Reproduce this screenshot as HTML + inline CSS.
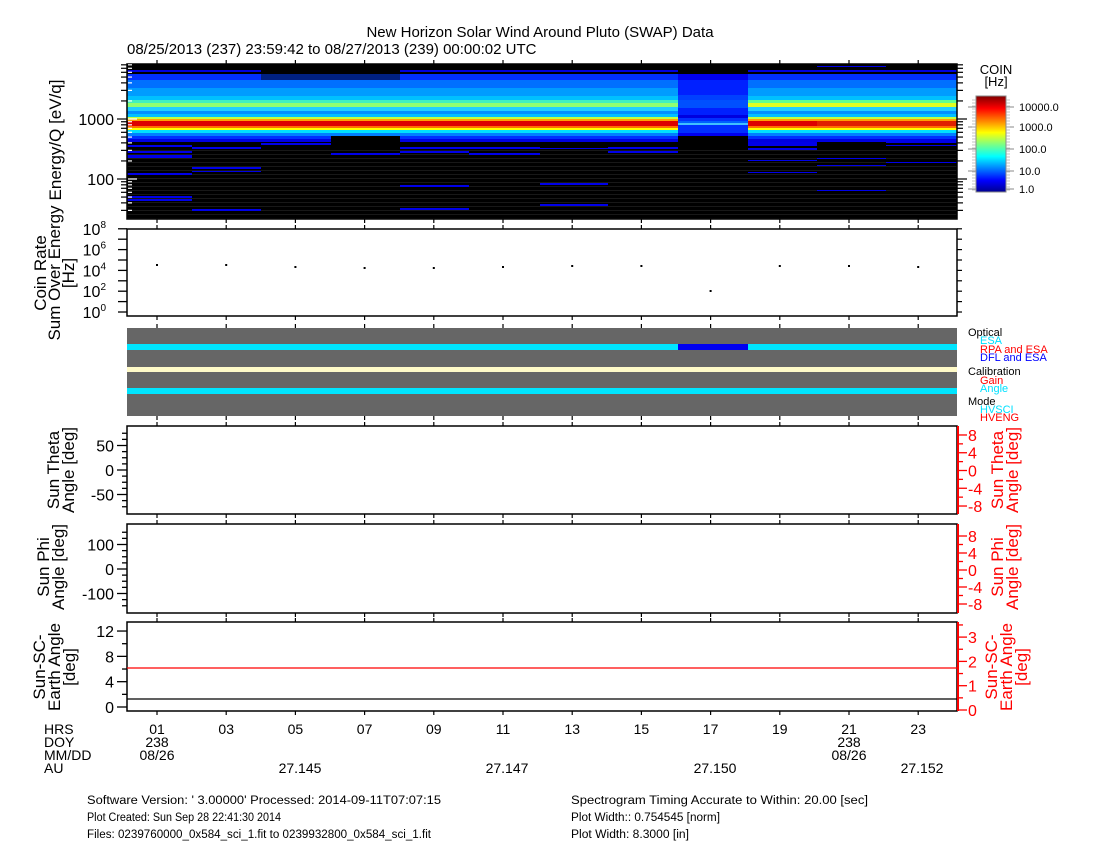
<!DOCTYPE html>
<html><head><meta charset="utf-8"><style>
html,body{margin:0;padding:0;background:#fff;}
svg{display:block;font-family:"Liberation Sans",Arial,sans-serif;}
</style></head><body>
<svg id="s" width="1100" height="850" xmlns="http://www.w3.org/2000/svg">
<defs>
<linearGradient id="jet" x1="0" y1="1" x2="0" y2="0">
<stop offset="0" stop-color="#00008f"/>
<stop offset="0.12" stop-color="#0000ff"/>
<stop offset="0.37" stop-color="#00ffff"/>
<stop offset="0.5" stop-color="#80ff80"/>
<stop offset="0.62" stop-color="#ffff00"/>
<stop offset="0.87" stop-color="#ff0000"/>
<stop offset="1" stop-color="#800000"/>
</linearGradient>
</defs>
<rect width="1100" height="850" fill="#fff"/>
<text x="540" y="37" font-size="15" text-anchor="middle">New Horizon Solar Wind Around Pluto (SWAP) Data</text>
<text x="127" y="54" font-size="15">08/25/2013 (237) 23:59:42 to 08/27/2013 (239) 00:00:02 UTC</text>
<g id="spec"></g>
<g id="rest"></g>
</svg>
<script>
const NS="http://www.w3.org/2000/svg";
const spec=document.getElementById('spec'), rest=document.getElementById('rest');
function el(p,tag,a,txt){const e=document.createElementNS(NS,tag);for(const k in a)e.setAttribute(k,a[k]);if(txt!==undefined)e.textContent=txt;p.appendChild(e);return e;}
const L=127,R=957;
el(spec,'rect',{x:L,y:64,width:R-L,height:155,fill:'#000'});
for(let y=150;y<219;y+=4) el(spec,'rect',{x:L,y:y,width:R-L,height:1,fill:'#181818'});
const bounds=[127,192,261,331,400,469,540,608,678,748,817,886,957];
const base=[[70,72,'#0000e0'],[74,80,'#0030ff'],[80,88,'#0070ff'],[88,96,'#009cff'],[96,100,'#00c0ff'],[100,103,'#40f0c0'],[103,107,'#90ff70'],[107,111,'#20d0ff'],[111,114,'#0090ff'],[114,117,'#00c0ff'],[117,119,'#c0ff40'],[119,121,'#ffa000'],[121,126,'#dd0000'],[126,128,'#ff7000'],[128,130,'#ffff00'],[130,133,'#00e0ff'],[133,136,'#0080ff'],[136,139,'#0030ff'],[139,142,'#0000e0']];
const extras=[[[145,147],[151,153],[155,158],[173,175],[196,198],[199,201]],[[147,149],[167,169],[171,172],[209,211]],[[143,145]],[[153,155]],[[147,149],[151,153],[185,187],[208,210]],[[147,149],[153,155]],[[148,149],[183,185],[204,206]],[[147,149],[151,153]],[],[[142,146],[148,150],[160,161],[172,173]],[[141,142],[158,159],[165,166],[190,191],[66,67],[70,71]],[[140,143],[145,146],[162,163]]];
for(let c=0;c<12;c++){
  const x=bounds[c],w=bounds[c+1]-x;
  let prof=base.map(b=>b.slice());
  if(c==2||c==3){prof=prof.filter(b=>b[0]>=74);prof[0][2]='#002080';}
  if(c==3){prof=prof.filter(b=>b[0]<136);}
  if(c==8){prof=[[74,80,'#0000ee'],[80,95,'#0020ff'],[95,100,'#0040ff'],[100,108,'#0050ff'],[108,115,'#0020ff'],[115,118,'#0000e0'],[118,121,'#0030ff'],[121,123,'#0060ff'],[123,125,'#40c0ff'],[125,133,'#0030ff'],[133,136,'#0000f0']];}
  if(c>=9){prof.forEach(b=>{if(b[0]==103)b[2]='#e0ff20';if(b[0]==100)b[2]='#60ff90';});}
  if(c==11||c==10){prof.forEach(b=>{if(b[0]==121)b[2]='#e02000';});}
  for(const b of prof) el(spec,'rect',{x:x,y:b[0],width:w,height:b[1]-b[0],fill:b[2]});
  for(const e of extras[c]) el(spec,'rect',{x:x,y:e[0],width:w,height:e[1]-e[0],fill:'#0000e8'});
}
el(spec,'rect',{x:L,y:64,width:R-L,height:155,fill:'none',stroke:'#000','stroke-width':1.5});
function ly(v){return 119-60*Math.log10(v/1000);}
for(let d=10;d<=10000;d*=10)for(let k=1;k<10;k++){const v=d*k,y=ly(v);if(y<64||y>219)continue;const maj=k==1;
 el(spec,'line',{x1:L-(maj?10:6),x2:L,y1:y,y2:y,stroke:'#000','stroke-width':1.2});
 el(spec,'line',{x1:R,x2:R+(maj?10:6),y1:y,y2:y,stroke:'#000','stroke-width':1.2});
 el(spec,'line',{x1:L+1,x2:L+(maj?10:5),y1:y,y2:y,stroke:'#fff','stroke-width':1.2});}
el(spec,'text',{x:114,y:125,'font-size':16,'text-anchor':'end'},'1000');
el(spec,'text',{x:114,y:185,'font-size':16,'text-anchor':'end'},'100');
el(spec,'rect',{x:976,y:96,width:30,height:96,fill:'url(#jet)',stroke:'#888','stroke-width':1});
el(spec,'text',{x:996,y:74,'font-size':13,'text-anchor':'middle'},'COIN');
el(spec,'text',{x:996,y:86,'font-size':13,'text-anchor':'middle'},'[Hz]');
[[107,'10000.0'],[127,'1000.0'],[149,'100.0'],[171,'10.0'],[189,'1.0']].forEach(t=>{el(spec,'text',{x:1019,y:t[0]+4,'font-size':11},t[1]);el(spec,'line',{x1:1006,x2:1014,y1:t[0],y2:t[0],stroke:'#888'});el(spec,'line',{x1:968,x2:976,y1:t[0],y2:t[0],stroke:'#888'});});
for(let y=100;y<192;y+=3){el(spec,'line',{x1:1006,x2:1010,y1:y,y2:y,stroke:'#aaa','stroke-width':0.7});el(spec,'line',{x1:972,x2:976,y1:y,y2:y,stroke:'#aaa','stroke-width':0.7});}
function hx(h){return 157+34.6*(h-1);}
const panels=[[64,219],[229,316],[328,416],[426,514],[524,613],[622,711]];
panels.forEach(p=>{for(let h=1;h<=23;h+=2){const x=hx(h);el(rest,'line',{x1:x,x2:x,y1:p[0]-4,y2:p[0],stroke:'#000','stroke-width':1.2});el(rest,'line',{x1:x,x2:x,y1:p[1],y2:p[1]+4,stroke:'#000','stroke-width':1.2});}});
el(rest,'rect',{x:L,y:229,width:R-L,height:87,fill:'none',stroke:'#000','stroke-width':1.5});
for(let e=0;e<=8;e++){const y=312-10.4*e;el(rest,'line',{x1:L-9,x2:L,y1:y,y2:y,stroke:'#000','stroke-width':1.3});el(rest,'line',{x1:R,x2:R+5,y1:y,y2:y,stroke:'#000','stroke-width':1.2});
 if(e%2==0){const t=el(rest,'text',{x:106,y:y+6,'font-size':16,'text-anchor':'end'},'10');el(t,'tspan',{dy:-7,'font-size':10},String(e));}}
const dy=[265,265,267,268,268,267,266,266,291,266,266,267];
dy.forEach((y,i)=>el(rest,'rect',{x:hx(1+2*i)-1,y:y-1,width:2,height:2,fill:'#000'}));
function vt(x,y,s,txt,fill){el(rest,'text',{x:0,y:0,'font-size':s,'text-anchor':'middle',fill:fill||'#000',transform:`translate(${x},${y}) rotate(-90)`},txt);}
vt(61,140,17,'Energy/Q [eV/q]');
vt(46,273,17,'Coin Rate');vt(60,273,17,'Sum Over Energy');vt(74,273,17,'[Hz]');
el(rest,'rect',{x:L,y:328,width:R-L,height:88,fill:'#666'});
el(rest,'rect',{x:L,y:344,width:R-L,height:6,fill:'#00e5ff'});
el(rest,'rect',{x:678,y:344,width:70,height:6,fill:'#0000f0'});
el(rest,'rect',{x:L,y:367,width:R-L,height:5,fill:'#fffac8'});
el(rest,'rect',{x:L,y:388,width:R-L,height:6,fill:'#00e5ff'});
[[968,332,'Optical','#000'],[980,340,'ESA','#00e0ff'],[980,349,'RPA and ESA','#ff0000'],[980,357,'DFL and ESA','#0000ff'],[968,371,'Calibration','#000'],[980,380,'Gain','#ff0000'],[980,388,'Angle','#00e0ff'],[968,401,'Mode','#000'],[980,409,'HVSCI','#00e0ff'],[980,417,'HVENG','#ff0000']].forEach(t=>el(rest,'text',{x:t[0],y:t[1]+4,'font-size':11,fill:t[3]},t[2]));
function panel(top,bot,lt,rt){el(rest,'rect',{x:L,y:top,width:R-L,height:bot-top,fill:'none',stroke:'#000','stroke-width':1.5});
 lt.forEach(t=>{el(rest,'line',{x1:L-(t[1]?10:5),x2:L,y1:t[0],y2:t[0],stroke:'#000','stroke-width':1.3});if(t[1])el(rest,'text',{x:114,y:t[0]+6,'font-size':16,'text-anchor':'end'},t[1]);});
 rt.forEach(t=>{el(rest,'line',{x1:R,x2:R+(t[1]?10:6),y1:t[0],y2:t[0],stroke:'#f00','stroke-width':1.3});if(t[1])el(rest,'text',{x:968,y:t[0]+6,'font-size':16,fill:'#f00'},t[1]);});
 el(rest,'line',{x1:R+1,x2:R+1,y1:top,y2:bot,stroke:'#f00','stroke-width':2});}
function lin(a,b,step,v0,y0,pp,labs){const r=[];for(let v=a;v<=b+1e-9;v+=step){const y=y0-(v-v0)*pp;r.push([y,labs[Math.round(v*100)/100]||'']);}return r;}
panel(426,514,lin(-75,75,12.5,0,470,0.49,{50:'50',0:'0','-50':'-50'}),lin(-8,8,2,0,470.5,4.44,{8:'8',4:'4',0:'0','-4':'-4','-8':'-8'}));
panel(524,613,lin(-150,150,25,0,569,0.245,{100:'100',0:'0','-100':'-100'}),lin(-8,8,2,0,570,4.25,{8:'8',4:'4',0:'0','-4':'-4','-8':'-8'}));
panel(622,711,lin(0,12,2,0,707,6.33,{12:'12',8:'8',4:'4',0:'0'}),lin(0,3.5,0.5,0,710,24.3,{3:'3',2:'2',1:'1',0:'0'}));
el(rest,'line',{x1:L,x2:R,y1:668,y2:668,stroke:'#f00','stroke-width':1.3});
el(rest,'line',{x1:L,x2:R,y1:699,y2:699,stroke:'#000','stroke-width':1.3});
vt(59,470,17,'Sun Theta');vt(74,470,17,'Angle [deg]');
vt(49,567,17,'Sun Phi');vt(64,567,17,'Angle [deg]');
vt(45,667,17,'Sun-SC-');vt(60,667,17,'Earth Angle');vt(75,667,17,'[deg]');
function vr(x,y,txt){el(rest,'text',{x:0,y:0,'font-size':17,'text-anchor':'middle',fill:'#f00',transform:`translate(${x},${y}) rotate(-90)`},txt);}
vr(1003,470,'Sun Theta');vr(1018,470,'Angle [deg]');
vr(1003,567,'Sun Phi');vr(1018,567,'Angle [deg]');
vr(997,667,'Sun-SC-');vr(1012,667,'Earth Angle');vr(1027,667,'[deg]');
[['HRS',734],['DOY',747],['MM/DD',760],['AU',773]].forEach(t=>el(rest,'text',{x:44,y:t[1],'font-size':14},t[0]));
for(let h=1;h<=23;h+=2)el(rest,'text',{x:hx(h),y:734,'font-size':14,'text-anchor':'middle'},(h<10?'0':'')+h);
[[hx(1)],[hx(21)]].forEach(p=>{el(rest,'text',{x:p[0],y:747,'font-size':14,'text-anchor':'middle'},'238');el(rest,'text',{x:p[0],y:760,'font-size':14,'text-anchor':'middle'},'08/26');});
[[300,'27.145'],[507,'27.147'],[715,'27.150'],[922,'27.152']].forEach(t=>el(rest,'text',{x:t[0],y:773,'font-size':14,'text-anchor':'middle'},t[1]));
[[87,804,"Software Version:  ' 3.00000'  Processed: 2014-09-11T07:07:15",354],[87,821,'Plot Created: Sun Sep 28 22:41:30 2014',194],[87,838,'Files: 0239760000_0x584_sci_1.fit to 0239932800_0x584_sci_1.fit',344],[571,804,'Spectrogram Timing Accurate to Within: 20.00 [sec]',297],[571,821,'Plot Width:: 0.754545 [norm]',149],[571,838,'Plot Width: 8.3000 [in]',118]].forEach(t=>el(rest,'text',{x:t[0],y:t[1],'font-size':11.5,textLength:t[3],lengthAdjust:'spacingAndGlyphs'},t[2]));
</script>
</body></html>
